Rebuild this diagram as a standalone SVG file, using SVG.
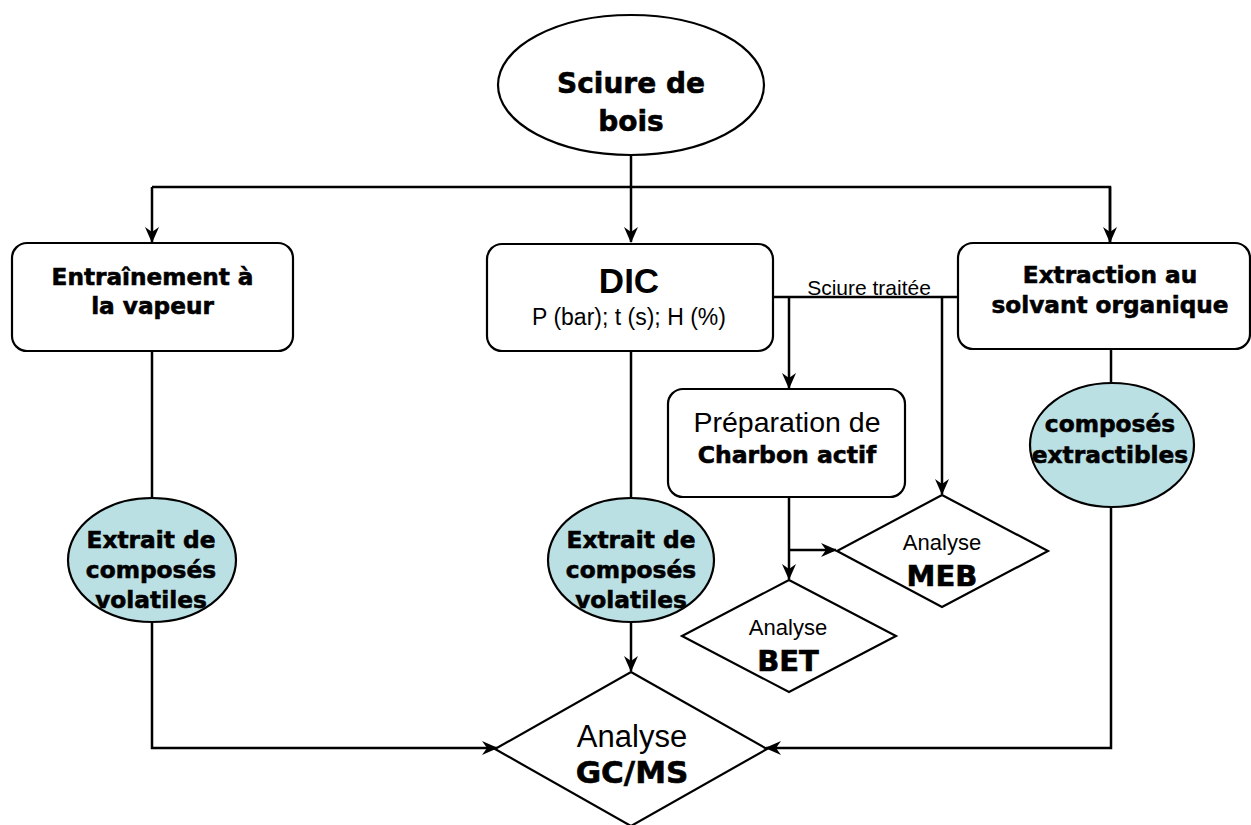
<svg xmlns="http://www.w3.org/2000/svg" width="1251" height="825" viewBox="0 0 1251 825">
<style>
.s{fill:none;stroke:#000;stroke-width:2.5}
.box{fill:#fff;stroke:#000;stroke-width:2.2}
.ell{fill:#bbe0e3;stroke:#000;stroke-width:2.2}
.b{font-family:"DejaVu Sans",Verdana,sans-serif;font-weight:bold;text-anchor:middle;fill:#000;stroke:#000;stroke-width:0.6}
.r{font-family:"Liberation Sans",Arial,sans-serif;text-anchor:middle;fill:#000}
</style>
<defs>
<marker id="a" markerUnits="userSpaceOnUse" markerWidth="16" markerHeight="14" viewBox="0 0 16 14" refX="15" refY="7" orient="auto">
<path d="M0,0 L16,7 L0,14 L5,7 z" fill="#000"/>
</marker>
</defs>
<g id="connectors">
<line class="s" x1="631" y1="155" x2="631" y2="242" marker-end="url(#a)"/>
<polyline class="s" points="1110,242 1110,187 152,187" />
<line class="s" x1="1110" y1="187" x2="1110" y2="242" marker-end="url(#a)"/>
<line class="s" x1="152" y1="187" x2="152" y2="242" marker-end="url(#a)"/>
<line class="s" x1="152" y1="351" x2="152" y2="498"/>
<polyline class="s" points="152,622 152,748 497,748" marker-end="url(#a)"/>
<line class="s" x1="631" y1="351" x2="631" y2="498"/>
<line class="s" x1="631" y1="622" x2="631" y2="671" marker-end="url(#a)"/>
<line class="s" x1="1111" y1="349" x2="1111" y2="383"/>
<polyline class="s" points="1111,507 1111,748 766,748" marker-end="url(#a)"/>
<line class="s" x1="773" y1="297" x2="990" y2="297" marker-end="url(#a)"/>
<line class="s" x1="789" y1="297" x2="789" y2="388" marker-end="url(#a)"/>
<line class="s" x1="942" y1="297" x2="942" y2="494" marker-end="url(#a)"/>
<line class="s" x1="789" y1="497" x2="789" y2="579" marker-end="url(#a)"/>
<line class="s" x1="789" y1="550" x2="836" y2="550" marker-end="url(#a)"/>
<text class="r" x="869" y="295" font-size="21">Sciure traitée</text>
</g>
<g id="sciure">
<ellipse class="box" cx="631" cy="85" rx="133" ry="70"/>
<text class="b" x="631" y="93" font-size="28">Sciure de</text>
<text class="b" x="631" y="131" font-size="28">bois</text>
</g>
<g id="entrainement">
<rect class="box" x="12" y="243" width="281" height="108" rx="15"/>
<text class="b" x="152.5" y="285" font-size="23.2">Entraînement à</text>
<text class="b" x="152.5" y="314" font-size="23.2">la vapeur</text>
</g>
<g id="dic">
<rect class="box" x="487" y="244" width="286" height="107" rx="15"/>
<text class="r" x="629" y="293" font-size="35" font-weight="bold">DIC</text>
<text class="r" x="629" y="325" font-size="23">P (bar); t (s); H (%)</text>
</g>
<g id="extraction">
<rect class="box" x="958" y="243" width="292" height="106" rx="15"/>
<text class="b" x="1110" y="283" font-size="23.2">Extraction au</text>
<text class="b" x="1110" y="313" font-size="23.2">solvant organique</text>
</g>
<g id="preparation">
<rect class="box" x="668" y="389" width="237" height="108" rx="15"/>
<text class="r" x="787" y="432" font-size="28.5">Préparation de</text>
<text class="b" x="787" y="463" font-size="23.5">Charbon actif</text>
</g>
<g id="extrait1">
<ellipse class="ell" cx="152" cy="560" rx="84" ry="62"/>
<text class="b" x="151" y="548" font-size="23.3">Extrait de</text>
<text class="b" x="151" y="578" font-size="23.3">composés</text>
<text class="b" x="151" y="608" font-size="23.3">volatiles</text>
</g>
<g id="extrait2">
<ellipse class="ell" cx="631" cy="560" rx="83" ry="62"/>
<text class="b" x="631" y="548" font-size="23.3">Extrait de</text>
<text class="b" x="631" y="578" font-size="23.3">composés</text>
<text class="b" x="631" y="608" font-size="23.3">volatiles</text>
</g>
<g id="extractibles">
<ellipse class="ell" cx="1112" cy="445" rx="82" ry="62"/>
<text class="b" x="1110" y="432" font-size="23.3">composés</text>
<text class="b" x="1110" y="463" font-size="23.3">extractibles</text>
</g>
<g id="meb">
<polygon class="box" points="942,495 1048,551 942,607 837,551"/>
<text class="r" x="942" y="550" font-size="22">Analyse</text>
<text class="b" x="942" y="586" font-size="29">MEB</text>
</g>
<g id="bet">
<polygon class="box" points="789,580 896,636 789,692 682,636"/>
<text class="r" x="788" y="635" font-size="22">Analyse</text>
<text class="b" x="788" y="671" font-size="29">BET</text>
</g>
<g id="gcms">
<polygon class="box" points="631,672 767,749 631,826 495,749"/>
<text class="r" x="632" y="747" font-size="31">Analyse</text>
<text class="b" x="632" y="783" font-size="31">GC/MS</text>
</g>
</svg>
